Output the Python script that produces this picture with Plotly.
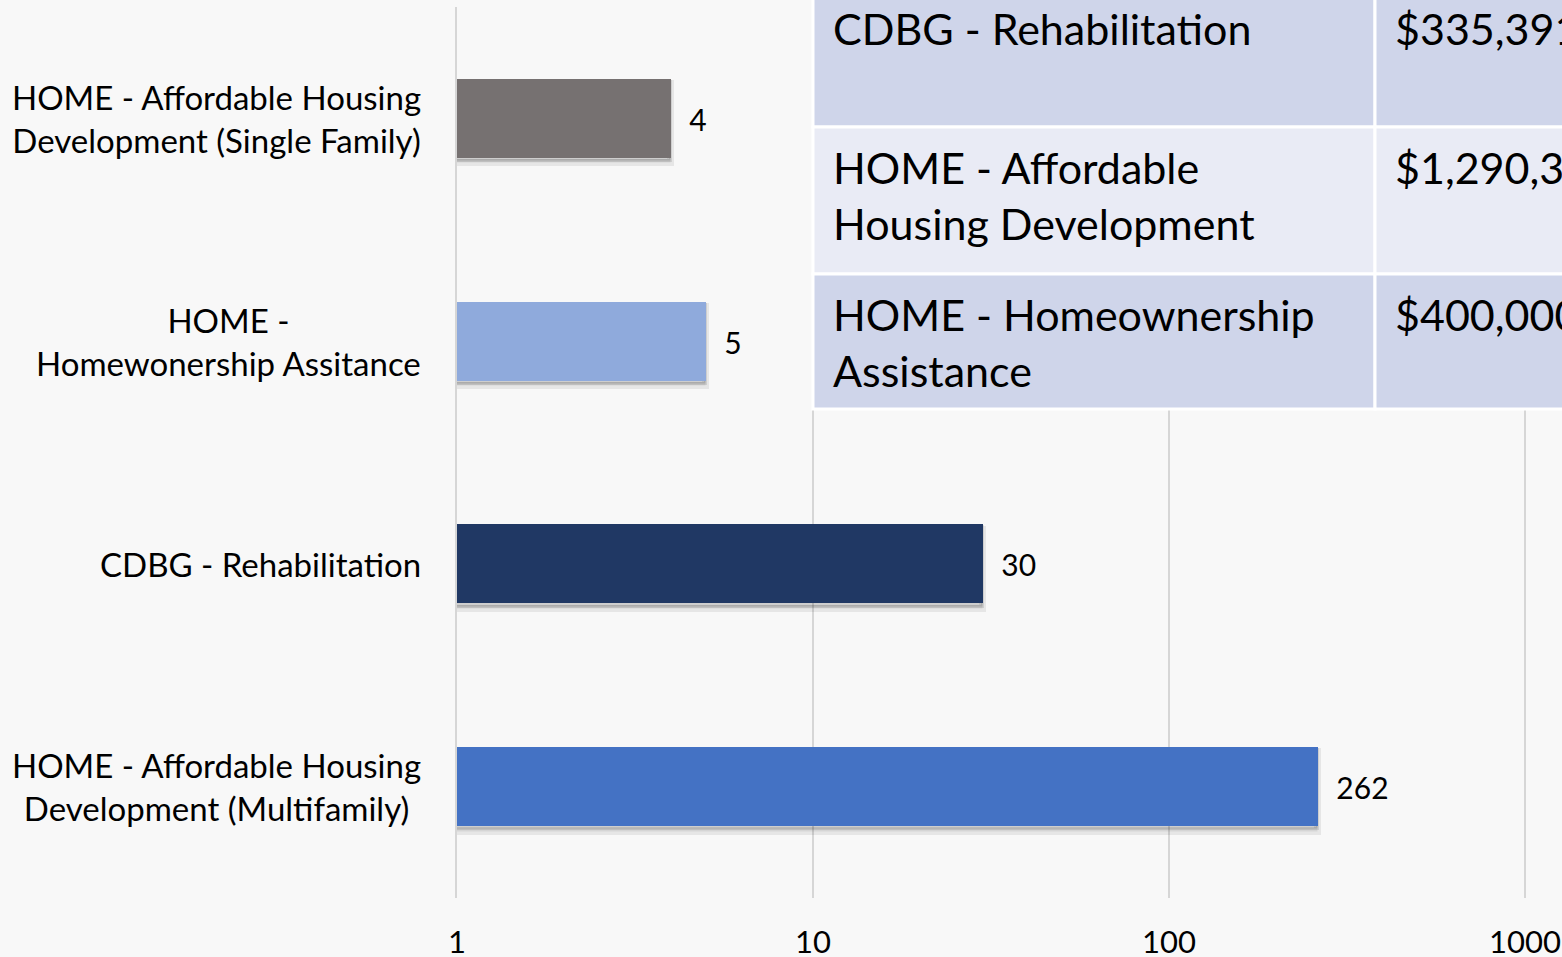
import plotly.graph_objects as go

# ---------------- data ----------------
categories = [
    "HOME - Affordable Housing<br>Development (Single Family)",
    "HOME -<br>Homewonership Assitance",
    "CDBG - Rehabilitation",
    "HOME - Affordable Housing<br>Development (Multifamily)",
]
values = [4, 5, 30, 262]
bar_colors = ["#767171", "#8FAADC", "#203864", "#4472C4"]

tick_vals = [1, 10, 100, 1000]
tick_text = ["1", "10", "100", "1000"]

table_programs = [
    "CDBG - Rehabilitation",
    "HOME - Affordable<br>Housing Development",
    "HOME - Homeownership<br>Assistance",
]
table_amounts = ["$335,391", "$1,290,375", "$400,000"]
table_fills = ["#CFD5EA", "#E9EBF5", "#CFD5EA"]

# ---------------- layout geometry (pixels) ----------------
W, H = 1562, 957
L, R, T, B = 457, 0, 7, 59
PW, PH = W - L - R, H - T - B
FONT = "Lato, 'Open Sans', sans-serif"


def px_x(px):
    return (px - L) / PW


def px_y(py):
    return 1 - (py - T) / PH


BAR_W = 0.355

fig = go.Figure()

# soft drop shadow under bars (two translucent layers)
for shift, alpha, lw in [(0.024, 0.07, 7), (0.014, 0.10, 3)]:
    fig.add_trace(go.Bar(
        y=categories, x=values, orientation="h",
        width=BAR_W, offset=-BAR_W / 2 + shift,
        marker=dict(color="rgba(0,0,0,%s)" % alpha,
                    line=dict(color="rgba(0,0,0,%s)" % alpha, width=lw)),
        hoverinfo="skip", showlegend=False,
    ))
fig.add_trace(go.Bar(
    y=categories, x=values, orientation="h",
    width=BAR_W, offset=-BAR_W / 2,
    marker=dict(color=bar_colors, line=dict(width=0)),
    text=values, texttemplate="\u00a0\u00a0%{x}", textposition="outside",
    textfont=dict(family=FONT, size=30, color="#000000"),
    cliponaxis=False, constraintext="none",
    showlegend=False,
))

# category labels (centered multi-line)
for c in categories:
    fig.add_annotation(
        x=0, xref="paper", y=c, yref="y", text=c,
        xanchor="right", yanchor="middle", align="center", xshift=-34,
        showarrow=False, font=dict(family=FONT, size=33, color="#000000"),
    )

# table overlay
rows_px = [(-12, 127), (127, 274), (274, 409)]
col_px = [(813, 1375), (1375, 1700)]
for (r0, r1), fill in zip(rows_px, table_fills):
    for (c0, c1) in col_px:
        fig.add_shape(
            type="rect", xref="paper", yref="paper",
            x0=px_x(c0), x1=px_x(c1), y0=px_y(r1), y1=px_y(r0),
            fillcolor=fill, line=dict(color="#FFFFFF", width=3), layer="above",
        )
for (r0, r1), prog, amt in zip(rows_px, table_programs, table_amounts):
    for xp, txt in [(831, prog), (1393, amt)]:
        fig.add_annotation(
            x=px_x(xp), xref="paper", y=px_y(r0 + 13), yref="paper", text=txt,
            xanchor="left", yanchor="top", align="left", showarrow=False,
            font=dict(family=FONT, size=43, color="#000000"),
        )

fig.update_layout(
    width=W, height=H,
    margin=dict(l=L, r=R, t=T, b=B, pad=0, autoexpand=False),
    paper_bgcolor="#F8F8F8", plot_bgcolor="rgba(0,0,0,0)",
    barmode="overlay", bargap=0,
    font=dict(family=FONT, color="#000000"),
    xaxis=dict(
        type="log", range=[0, 3.104], automargin=False,
        tickvals=tick_vals, ticktext=tick_text,
        tickfont=dict(family=FONT, size=31, color="#000000"),
        showgrid=True, gridcolor="#D6D6D6", gridwidth=1.5,
        showline=False, zeroline=False, ticks="", ticklabelstandoff=23,
    ),
    yaxis=dict(
        type="category", categoryorder="array", categoryarray=categories,
        range=[3.5, -0.5], showticklabels=False, showgrid=False, automargin=False,
        showline=True, linecolor="#D6D6D6", linewidth=1.5, ticks="", zeroline=False,
    ),
)

fig.write_html(
    "out.html",
    config={"displayModeBar": False},
    post_script="document.body.style.margin='0';document.body.style.overflow='hidden';",
)
